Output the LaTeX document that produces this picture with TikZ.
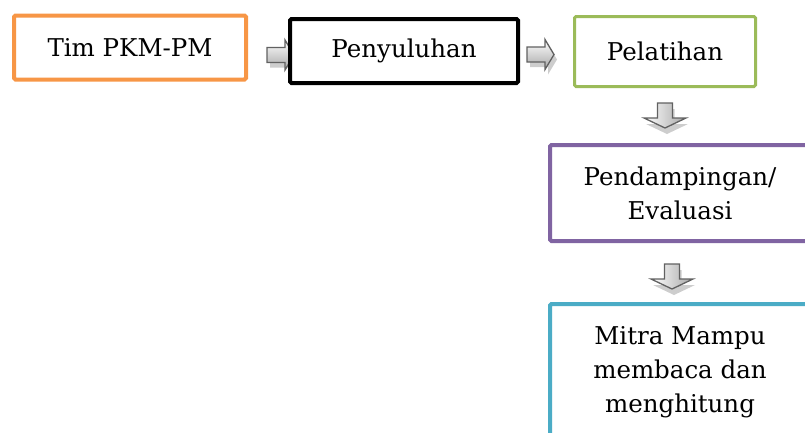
\documentclass[tikz,border=0pt]{standalone}
\usepackage{fontspec}
\setmainfont{DejaVu Serif}
\begin{document}
\begin{tikzpicture}[x=1pt,y=-1pt,
  box/.style={draw, line width=4pt, rounded corners=1.5pt, fill=white, align=center,
     inner sep=0pt, font=\fontsize{24.5}{34}\selectfont},
  arrbody/.style={draw=black!62, line width=1.3pt, line join=miter,
     left color=white, right color=black!35},
  arrshadow/.style={fill=black!28, opacity=0.7}
]
\useasboundingbox (0,0) rectangle (805,432);
\definecolor{corange}{HTML}{F79646}
\definecolor{cgreen}{HTML}{9BBB59}
\definecolor{cpurple}{HTML}{8064A2}
\definecolor{ccyan}{HTML}{4BACC6}

% arrows (drawn first, boxes may overlap them)
\coordinate (ra1) at (267,55);
\coordinate (ra2) at (527,54.5);
\coordinate (da1) at (665,103);
\coordinate (da2) at (672,264);

\foreach \p in {ra1,ra2}{
  \begin{scope}[shift={(\p)}]
    \fill[arrshadow, shift={(3,5)}] (0,-7.5) -- (18,-7.5) -- (18,-15) -- (27,0) -- (18,15) -- (18,7.5) -- (0,7.5) -- cycle;
    \path[arrbody, shading angle=0, top color=white, bottom color=black!35] (0,-7.5) -- (18,-7.5) -- (18,-15) -- (27,0) -- (18,15) -- (18,7.5) -- (0,7.5) -- cycle;
  \end{scope}
}
\foreach \p in {da1,da2}{
  \begin{scope}[shift={(\p)}]
    \fill[arrshadow, shift={(2,6)}] (-7.5,0) -- (7.5,0) -- (7.5,15) -- (21,15) -- (0,25) -- (-21,15) -- (-7.5,15) -- cycle;
    \path[arrbody] (-7.5,0) -- (7.5,0) -- (7.5,15) -- (21,15) -- (0,25) -- (-21,15) -- (-7.5,15) -- cycle;
  \end{scope}
}

% boxes
\node[box, draw=corange, minimum width=232pt, minimum height=64pt] (tim) at (130,47.5) {Tim PKM-PM};
\node[box, draw=black, minimum width=228pt, minimum height=64pt] (peny) at (404,51) {Penyuluhan};
\node[box, draw=cgreen, line width=3pt, minimum width=181pt, minimum height=70pt] (pel) at (665,51.5) {Pelatihan};
\node[box, draw=cpurple, minimum width=260pt, minimum height=96pt] (pend) at (680,193) {Pendampingan/\\Evaluasi};
\node[box, draw=ccyan, minimum width=260pt, minimum height=136pt] (mitra) at (680,372) {Mitra Mampu\\membaca dan\\menghitung};
\end{tikzpicture}
\end{document}
